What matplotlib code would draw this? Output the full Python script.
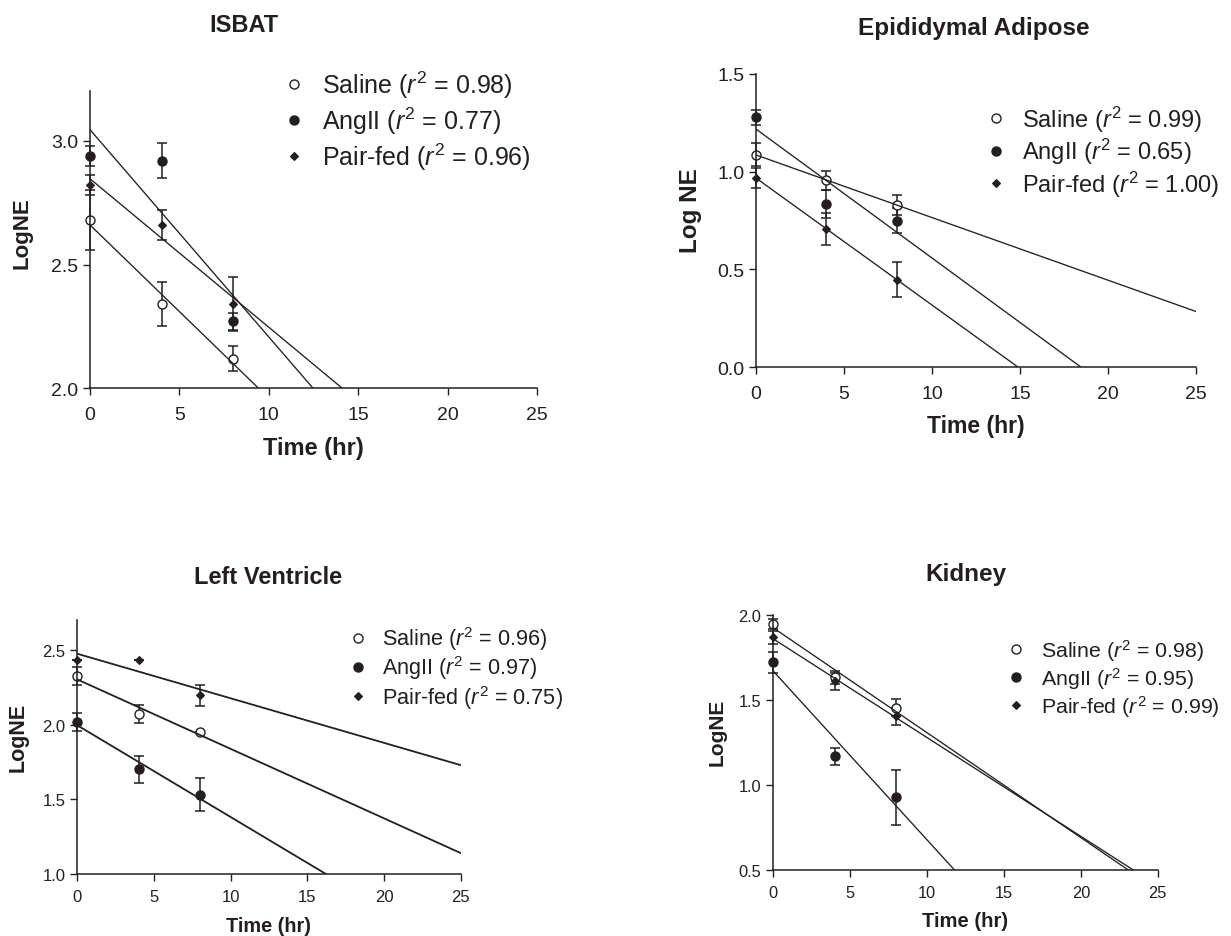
import matplotlib
matplotlib.use('Agg')
import matplotlib.pyplot as plt
from matplotlib.lines import Line2D
import numpy as np

plt.rcParams['font.family'] = ['Liberation Sans', 'DejaVu Sans']
plt.rcParams['mathtext.fontset'] = 'custom'
plt.rcParams['mathtext.rm'] = 'Liberation Sans'
plt.rcParams['mathtext.it'] = 'Liberation Sans:italic'
plt.rcParams['mathtext.bf'] = 'Liberation Sans:bold'

INK = '#231f20'

# ---------------- data ----------------
time_hr = [0, 4, 8]
groups = ['Saline', 'AngII', 'Pair-fed']
x_ticks = [0, 5, 10, 15, 20, 25]

# ISBAT (rows: Saline, AngII, Pair-fed)
isbat_mean = [[2.68, 2.34, 2.12], [2.94, 2.92, 2.27], [2.82, 2.66, 2.34]]
isbat_sem = [[0.12, 0.09, 0.05], [0.04, 0.07, 0.035], [0.04, 0.06, 0.11]]
isbat_r2 = ['0.98', '0.77', '0.96']
isbat_yticks = [2.0, 2.5, 3.0]

# Epididymal adipose
epi_mean = [[1.086, 0.955, 0.83], [1.277, 0.834, 0.75], [0.967, 0.707, 0.448]]
epi_sem = [[0.06, 0.05, 0.05], [0.04, 0.07, 0.065], [0.05, 0.08, 0.09]]
epi_r2 = ['0.99', '0.65', '1.00']
epi_yticks = [0.0, 0.5, 1.0, 1.5]

# Left ventricle
lv_mean = [[2.324, 2.07, 1.953], [2.02, 1.70, 1.53], [2.433, 2.433, 2.195]]
lv_sem = [[0.06, 0.06, 0.0], [0.06, 0.09, 0.11], [0.0, 0.0, 0.07]]
lv_r2 = ['0.96', '0.97', '0.75']
lv_yticks = [1.0, 1.5, 2.0, 2.5]

# Kidney
kid_mean = [[1.945, 1.632, 1.452], [1.72, 1.168, 0.927], [1.867, 1.608, 1.403]]
kid_sem = [[0.03, 0.04, 0.05], [0.06, 0.05, 0.16], [0.04, 0.05, 0.05]]
kid_r2 = ['0.98', '0.95', '0.99']
kid_yticks = [0.5, 1.0, 1.5, 2.0]

# ---------------- figure ----------------
W, H = 1231, 937
fig = plt.figure(figsize=(W / 100, H / 100), dpi=100)


def px_rect(l, r, t, b):
    return [l / W, 1 - b / H, (r - l) / W, (b - t) / H]


marker_styles = [
    dict(marker='o', ms=6.5, mfc='white', mec=INK, mew=1.0),
    dict(marker='o', ms=6.5, mfc=INK, mec=INK, mew=1.0),
    dict(marker='D', ms=3.7, mfc=INK, mec=INK, mew=0.8),
]

panels = [
    dict(title='ISBAT', mean=isbat_mean, sem=isbat_sem, r2=isbat_r2, yticks=isbat_yticks,
         ylim=(2.0, 3.2), ylabel='LogNE',
         rect=px_rect(90, 537, 92.3, 389.3), title_xy=(244, 25), title_fs=17,
         tick_fs=14, xpad=7.5, xl_fs=17, yl_fs=16, yl_x=-0.153, yl_y=0.526, xl_y=-0.201,
         leg_xy=(281, 121), leg_fs=18, leg_hp=0.65, leg_ls=0.18, line_lw=0.95),
    dict(title='Epididymal Adipose', mean=epi_mean, sem=epi_sem, r2=epi_r2, yticks=epi_yticks,
         ylim=(0.0, 1.5), ylabel='Log NE',
         rect=px_rect(756, 1196, 74.7, 368.3), title_xy=(973.5, 29), title_fs=17.5,
         tick_fs=14, xpad=7.5, xl_fs=16.6, yl_fs=17.5, yl_x=-0.149, yl_y=0.536, xl_y=-0.199,
         leg_xy=(984.3, 152), leg_fs=17, leg_hp=0.6, leg_ls=0.1, line_lw=0.95),
    dict(title='Left Ventricle', mean=lv_mean, sem=lv_sem, r2=lv_r2, yticks=lv_yticks,
         ylim=(1.0, 2.7), ylabel='LogNE',
         rect=px_rect(77.3, 460.7, 620.7, 875.3), title_xy=(268, 578), title_fs=17,
         tick_fs=12, xpad=5.5, xl_fs=14.3, yl_fs=15.5, yl_x=-0.1547, yl_y=0.543, xl_y=-0.203,
         leg_xy=(347.6, 668.5), leg_fs=15.6, leg_hp=0.58, leg_ls=0.06, line_lw=1.3),
    dict(title='Kidney', mean=kid_mean, sem=kid_sem, r2=kid_r2, yticks=kid_yticks,
         ylim=(0.5, 2.0), ylabel='LogNE',
         rect=px_rect(773.3, 1157.7, 615.7, 871), title_xy=(965.5, 575), title_fs=17.5,
         tick_fs=11.8, xpad=5.5, xl_fs=14.6, yl_fs=15, yl_x=-0.1465, yl_y=0.5425, xl_y=-0.1986,
         leg_xy=(1005.5, 679), leg_fs=15.4, leg_hp=0.65, leg_ls=0.1, line_lw=0.95),
]

for p in panels:
    ax = fig.add_axes(p['rect'])
    for gi, g in enumerate(groups):
        m = p['mean'][gi]
        s = p['sem'][gi]
        ax.errorbar(time_hr, m, yerr=s, fmt='none', ecolor=INK, elinewidth=1.1,
                    capsize=3.3, capthick=1.1, clip_on=False, zorder=2)
        ax.plot(time_hr, m, ls='none', clip_on=False, zorder=3, **marker_styles[gi])
        coef = np.polyfit(time_hr, m, 1)
        xs = np.array([0.0, 25.0])
        ax.plot(xs, np.polyval(coef, xs), color=INK, lw=p['line_lw'], zorder=4)

    ax.set_xlim(0, 25)
    ax.set_ylim(*p['ylim'])
    ax.set_xticks(x_ticks)
    ax.set_yticks(p['yticks'])
    ax.set_yticklabels([f'{v:.1f}' for v in p['yticks']])
    for side in ('top', 'right'):
        ax.spines[side].set_visible(False)
    for side in ('left', 'bottom'):
        ax.spines[side].set_linewidth(1.1)
        ax.spines[side].set_color(INK)
        ax.spines[side].set_zorder(5)
    ax.tick_params(direction='out', length=5, width=1.0, color=INK, labelcolor=INK,
                   labelsize=p['tick_fs'])
    ax.tick_params(axis='x', pad=p['xpad'])
    ax.tick_params(axis='y', pad=3.5)
    ax.patch.set_visible(False)

    ax.set_xlabel('Time (hr)', fontsize=p['xl_fs'], fontweight='bold', color=INK, va='center')
    ax.xaxis.set_label_coords(0.5, p['xl_y'])
    ax.set_ylabel(p['ylabel'], fontsize=p['yl_fs'], fontweight='bold', color=INK, va='center')
    ax.yaxis.set_label_coords(p['yl_x'], p['yl_y'])

    fig.text(p['title_xy'][0] / W, 1 - p['title_xy'][1] / H, p['title'], ha='center', va='center',
             fontsize=p['title_fs'], fontweight='bold', color=INK)

    handles = [Line2D([], [], ls='none', **marker_styles[i]) for i in range(3)]
    labels = [f'{g} ($r^2$ = {r})' for g, r in zip(groups, p['r2'])]
    leg = ax.legend(handles, labels, loc='center left',
                    bbox_to_anchor=(p['leg_xy'][0] / W, 1 - p['leg_xy'][1] / H),
                    bbox_transform=fig.transFigure, frameon=False, fontsize=p['leg_fs'],
                    handlelength=1.0, handletextpad=p['leg_hp'], labelspacing=p['leg_ls'],
                    borderpad=0, borderaxespad=0)
    for t in leg.get_texts():
        t.set_color(INK)

fig.savefig('out.png', dpi=100)
